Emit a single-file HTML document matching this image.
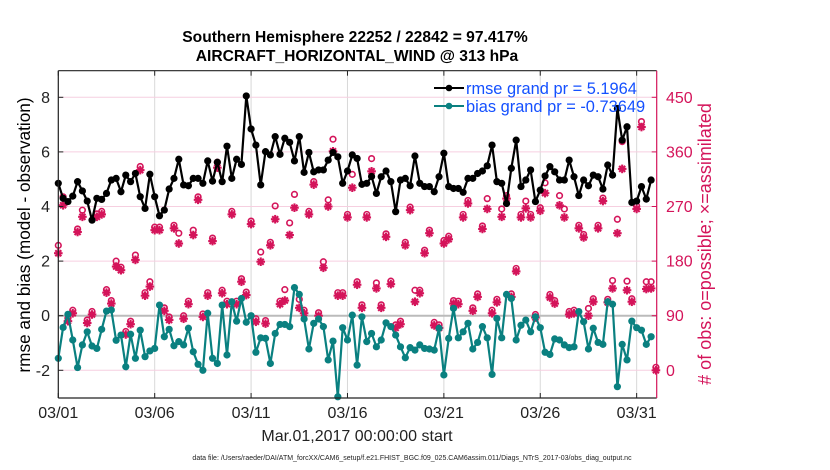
<!DOCTYPE html>
<html><head><meta charset="utf-8"><style>
html,body{margin:0;padding:0;background:#fff;}
svg{display:block;font-family:"Liberation Sans",sans-serif;}
</style></head><body>
<svg id="chart" width="830" height="470" viewBox="0 0 830 470">
<text x="355" y="42" text-anchor="middle" font-size="15.6" font-weight="bold">Southern Hemisphere 22252 / 22842 = 97.417%</text>
<text x="357" y="61" text-anchor="middle" font-size="15.6" font-weight="bold">AIRCRAFT_HORIZONTAL_WIND @ 313 hPa</text>
<g id="grid"></g>
<g id="series"></g>
<g id="axes"></g>
<text transform="translate(30,235) rotate(-90)" text-anchor="middle" font-size="17.2">rmse and bias (model - observation)</text>
<text transform="translate(711,244) rotate(-90)" text-anchor="middle" font-size="18" fill="#d4145a"># of obs: o=possible; ×=assimilated</text>
<text x="357" y="441" text-anchor="middle" font-size="16" fill="#222">Mar.01,2017 00:00:00 start</text>
<text x="412" y="460" text-anchor="middle" font-size="7" fill="#222">data file: /Users/raeder/DAI/ATM_forcXX/CAM6_setup/f.e21.FHIST_BGC.f09_025.CAM6assim.011/Diags_NTrS_2017-03/obs_diag_output.nc</text>
<g id="legend">
<line x1="434" y1="88" x2="464" y2="88" stroke="#000" stroke-width="2"/>
<circle cx="449" cy="88" r="3.3" fill="#000"/>
<text x="466" y="94" font-size="16.4" fill="#1450ff">rmse grand pr = 5.1964</text>
<line x1="434" y1="106" x2="464" y2="106" stroke="#0a8080" stroke-width="2"/>
<circle cx="449" cy="106" r="3.3" fill="#0a8080"/>
<text x="466" y="112" font-size="16.4" fill="#1450ff">bias grand pr = -0.73649</text>
</g>
</svg>
<script>
const xTickLabels = ["03/01","03/06","03/11","03/16","03/21","03/26","03/31"];
const xTickDays = [0,5,10,15,20,25,30];
const yTickLabels = [-2,0,2,4,6,8];
const rTickLabels = [0,90,180,270,360,450];
const rmse = [4.85,4.30,4.18,4.38,4.91,4.57,4.20,3.50,4.30,4.26,4.48,4.97,5.03,4.54,5.15,4.91,5.21,4.36,3.93,5.18,4.36,3.66,3.87,4.64,5.03,5.73,4.79,4.76,5.03,5.03,4.85,5.67,
4.93,5.62,4.91,6.21,5.03,5.73,5.54,8.05,6.84,6.25,4.79,6.01,5.89,6.56,5.91,6.50,6.35,5.67,6.56,5.25,5.98,5.27,5.34,5.34,5.70,5.98,5.82,4.85,5.30,5.89,5.76,4.81,
4.85,5.1,4.48,5.09,5.30,4.91,3.81,4.97,5.03,4.76,5.85,4.85,4.73,4.73,4.54,5.09,5.95,4.73,4.66,4.66,4.52,5.03,5.03,5.21,5.30,5.49,6.25,4.91,4.85,4.11,5.40,6.43,4.73,
4.97,5.34,4.18,4.60,5.12,5.46,5.27,4.97,4.97,5.70,5.09,4.40,4.97,4.76,5.15,5.09,4.64,5.52,5.15,7.59,6.43,6.92,4.15,4.20,4.73,4.27,4.97];
const bias = [-1.56,-0.43,0.05,-0.89,-1.90,-1.07,-0.59,-1.11,-1.20,-0.50,0.17,0.21,-0.90,-0.71,-1.87,-0.68,-1.56,-0.53,-1.50,-1.29,-1.20,0.39,-0.77,-0.50,-1.10,-0.95,-1.07,-0.46,-1.32,-1.78,-2.00,0.09,
-1.56,-1.75,0.39,-1.44,0.51,-0.20,0.63,-0.24,0,-1.34,-0.81,-0.83,-1.75,-0.65,-0.32,-0.32,-0.40,1.03,0.78,-0.12,-1.22,-0.28,-0.12,-0.40,-1.62,-0.93,-2.97,-0.44,-0.89,0.02,-1.81,-0.04,
-0.95,-0.65,-1.14,-0.89,-0.26,-0.40,-0.71,-1.14,-1.54,-1.17,-1.26,-1.07,-1.20,-1.22,-1.26,-0.46,-2.17,-0.83,0.27,-0.81,-0.59,-0.28,-1.22,-0.98,-0.40,-0.81,-2.15,-0.10,-0.81,0.78,0.63,-0.89,-0.35,
-0.16,-0.59,-0.04,-0.44,-1.34,-1.42,-0.85,-0.89,-1.07,-1.17,-1.14,0.15,-0.22,-1.22,-0.46,-0.98,-1.05,0.51,0.42,-2.60,-1.05,-1.62,-0.20,-0.44,-0.53,-1.05,-0.77];
const assimilated = [193,272,81,94,228,253,78,92,253,257,128,110,171,165,59,76,182,330,123,138,231,231,98,83,234,209,85,109,223,281,88,123,
213,334,127,109,257,109,146,124,241,80,179,77,206,249,109,115,223,268,103,94,257,306,90,169,270,361,123,123,252,301,141,103,
252,328,135,103,220,142,70,76,206,264,113,127,193,226,74,70,209,216,110,109,252,275,98,121,233,266,94,112,253,283,121,163,252,
267,252,87,263,292,120,110,272,252,92,94,234,219,90,113,234,279,112,135,226,332,132,113,266,401,134,135,0];
const possible = [201,281,81,94,228,259,78,92,253,257,128,110,175,165,59,76,185,331,123,141,231,231,98,83,234,221,85,109,226,281,88,123,
213,338,127,109,257,109,146,124,241,80,190,77,206,266,109,128,238,285,112,94,257,306,90,174,276,376,123,123,252,318,141,103,
252,344,139,103,220,142,70,76,206,264,127,127,193,226,74,70,209,216,110,109,252,275,98,121,233,278,94,112,261,283,121,163,252,
274,252,87,263,304,120,110,283,261,92,94,234,219,97,113,234,279,112,143,244,372,142,113,266,405,141,141,0];

const NS = "http://www.w3.org/2000/svg";
const L = 58.3, R = 656.7, T = 70.7, B = 398;
const dayMax = 31.04;
function xs(d){ return L + d/dayMax*(R-L); }
function ys(v){ return 315.7 - v*27.3; }
function yr(c){ return ys(-2 + c/45); }
function mk(tag, attrs, parent){ const e=document.createElementNS(NS,tag); for(const k in attrs) e.setAttribute(k,attrs[k]); parent.appendChild(e); return e; }
const grid=document.getElementById('grid'), series=document.getElementById('series'), axes=document.getElementById('axes');
mk('rect',{x:L,y:T,width:R-L,height:B-T,fill:'#fff'},grid);
xTickDays.forEach((d,i)=>{
  const g=mk('line',{x1:xs(d),y1:T,x2:xs(d),y2:B,stroke:'#d8d8d8','stroke-width':1},grid);
  
  
  const t=mk('text',{x:xs(d),y:418,'text-anchor':'middle','font-size':16,fill:'#222'},axes);
  t.textContent=xTickLabels[i];
  
  
});
yTickLabels.forEach(v=>{
  const g=mk('line',{x1:L,y1:ys(v),x2:R,y2:ys(v),stroke:'#f6cfe0','stroke-width':1},grid);
  
  
  const t=mk('text',{x:50,y:ys(v)+5.5,'text-anchor':'end','font-size':16,fill:'#222'},axes);
  t.textContent=v;
  
  
});
const zl=mk('line',{x1:L,y1:ys(0),x2:R,y2:ys(0),stroke:'#bbb','stroke-width':2},grid);


rTickLabels.forEach(c=>{
  const t=mk('text',{x:666,y:yr(c)+5.5,'font-size':16,fill:'#d4145a'},axes);
  t.textContent=c;
  
  
  mk('line',{x1:R-5,y1:yr(c),x2:R,y2:yr(c),stroke:'#d4145a','stroke-width':1},axes);
});
const MC='#d4145a';
assimilated.forEach((c,i)=>{
  const x=xs(i*0.25), y=yr(c), r=4.3;
  const g=mk('g',{stroke:MC,'stroke-width':2.1},series);
  
  
  mk('line',{x1:x-r,y1:y,x2:x+r,y2:y},g);
  mk('line',{x1:x,y1:y-r,x2:x,y2:y+r},g);
  mk('line',{x1:x-r*0.7,y1:y-r*0.7,x2:x+r*0.7,y2:y+r*0.7},g);
  mk('line',{x1:x-r*0.7,y1:y+r*0.7,x2:x+r*0.7,y2:y-r*0.7},g);
});
possible.forEach((c,i)=>{
  const o=mk('circle',{cx:xs(i*0.25),cy:yr(c)-3,r:2.8,fill:'none',stroke:MC,'stroke-width':1.6},series);
  
  
});
function drawLine(arr,color,name){
  const pts=arr.map((v,i)=>xs(i*0.25).toFixed(1)+','+ys(v).toFixed(1)).join(' ');
  const pl=mk('polyline',{points:pts,fill:'none',stroke:color,'stroke-width':2.2,'stroke-linejoin':'round'},series);
  
  
  arr.forEach((v,i)=>{
    const c=mk('circle',{cx:xs(i*0.25),cy:ys(v),r:3.6,fill:color},series);
    
    
  });
}
drawLine(bias,'#0a8080','bias');
drawLine(rmse,'#000','rmse');
mk('line',{x1:L,y1:T,x2:R,y2:T,stroke:'#222','stroke-width':1.2},axes);
mk('line',{x1:L,y1:B,x2:R,y2:B,stroke:'#222','stroke-width':1.2},axes);
mk('line',{x1:L,y1:T,x2:L,y2:B,stroke:'#222','stroke-width':1.2},axes);
const ra=mk('line',{x1:R,y1:T,x2:R,y2:B,stroke:'#d4145a','stroke-width':1.2},axes);


xTickDays.forEach(d=>{ mk('line',{x1:xs(d),y1:B,x2:xs(d),y2:B-5,stroke:'#222'},axes); mk('line',{x1:xs(d),y1:T,x2:xs(d),y2:T+5,stroke:'#222'},axes); });
yTickLabels.forEach(v=>{ mk('line',{x1:L,y1:ys(v),x2:L+5,y2:ys(v),stroke:'#222'},axes); });
</script>
</body></html>
